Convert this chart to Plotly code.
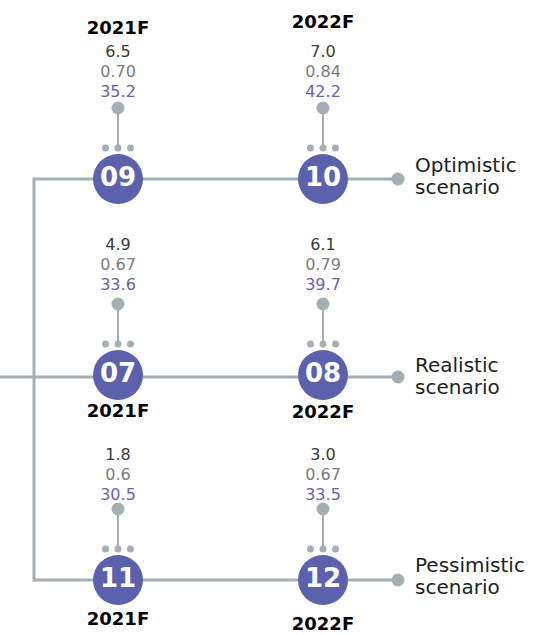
import plotly.graph_objects as go

# ---------------- data ----------------
years = ["2021F", "2022F"]
scenarios = ["Optimistic", "Realistic", "Pessimistic"]
scenario_word = "scenario"
codes = [["09", "10"], ["07", "08"], ["11", "12"]]
metric_a = [[6.5, 7.0], [4.9, 6.1], [1.8, 3.0]]
metric_b = [["0.70", "0.84"], ["0.67", "0.79"], ["0.6", "0.67"]]
metric_c = [[35.2, 42.2], [33.6, 39.7], [30.5, 33.5]]

# ---------------- layout constants (pixels) ----------------
W, H = 545, 635
COL_X = [118, 323]
ROW_Y = [179, 375, 580]
ROW_LINE_Y = [179, 377, 580]
LABEL_BASE_Y = [180, 380, 580]
VALUE_OFFSET = [-126, -129, -124]
SPINE_X = 34
END_X = 398
LABEL_X = 415
YEAR_Y = [[29, 23], [412, 413], [620, 625]]

PURPLE = "#5c61ad"
GRAY = "#a4aeb3"
C_A = "#3a3a3a"
C_B = "#7b7b7b"
C_C = "#6a5fb3"
FONT = "DejaVu Sans"

fig = go.Figure()

# spine
fig.add_trace(go.Scatter(x=[SPINE_X, SPINE_X], y=[ROW_LINE_Y[0] - 1.5, ROW_LINE_Y[2] + 1.5],
                         mode="lines", line=dict(color=GRAY, width=3), hoverinfo="skip"))

for r, scen in enumerate(scenarios):
    ly = ROW_LINE_Y[r]
    x0 = 0 if r == 1 else SPINE_X
    fig.add_trace(go.Scatter(x=[x0, END_X], y=[ly, ly], mode="lines",
                             line=dict(color=GRAY, width=3), hoverinfo="skip"))
    fig.add_trace(go.Scatter(x=[END_X], y=[ly], mode="markers",
                             marker=dict(size=13, color=GRAY), hoverinfo="skip"))
    # scenario label
    lb = LABEL_BASE_Y[r]
    fig.add_trace(go.Scatter(x=[LABEL_X, LABEL_X], y=[lb - 13, lb + 9],
                             mode="text", text=[scen, scenario_word], textposition="middle right",
                             textfont=dict(family=FONT, size=20, color="#1e1e1e"), hoverinfo="skip"))
    for c, yr in enumerate(years):
        cx, cy = COL_X[c], ROW_Y[r]
        # stem
        fig.add_trace(go.Scatter(x=[cx, cx], y=[cy - 71, cy - 31], mode="lines",
                                 line=dict(color=GRAY, width=2), hoverinfo="skip"))
        fig.add_trace(go.Scatter(x=[cx], y=[cy - 71], mode="markers",
                                 marker=dict(size=13, color=GRAY), hoverinfo="skip"))
        fig.add_trace(go.Scatter(x=[cx - 12.5, cx, cx + 12.5], y=[cy - 31] * 3, mode="markers",
                                 marker=dict(size=7, color=GRAY), hoverinfo="skip"))
        # big circle
        fig.add_trace(go.Scatter(x=[cx], y=[cy], mode="markers+text", text=[codes[r][c]],
                                 textposition="middle center",
                                 textfont=dict(family=FONT, size=26, color="white", weight="bold"),
                                 marker=dict(size=50, color=PURPLE), hoverinfo="skip"))
        # values
        vals = [f"{metric_a[r][c]:.1f}", metric_b[r][c], f"{metric_c[r][c]:.1f}"]
        cols = [C_A, C_B, C_C]
        for k in range(3):
            fig.add_trace(go.Scatter(x=[cx], y=[cy + VALUE_OFFSET[r] + 20 * k], mode="text",
                                     text=[vals[k]], textposition="middle center",
                                     textfont=dict(family=FONT, size=16, color=cols[k]),
                                     hoverinfo="skip"))
        # year label
        fig.add_trace(go.Scatter(x=[cx], y=[YEAR_Y[r][c]], mode="text", text=[yr],
                                 textposition="middle center",
                                 textfont=dict(family=FONT, size=18, color="black", weight="bold"),
                                 hoverinfo="skip"))

fig.update_layout(
    width=W, height=H, margin=dict(l=0, r=0, t=0, b=0),
    paper_bgcolor="white", plot_bgcolor="white", showlegend=False,
    xaxis=dict(range=[0, W], visible=False, fixedrange=True),
    yaxis=dict(range=[H, 0], visible=False, fixedrange=True),
)
fig.write_html("out.html", config={"displayModeBar": False},
               post_script="document.body.style.margin='0';document.body.style.overflow='hidden';")
